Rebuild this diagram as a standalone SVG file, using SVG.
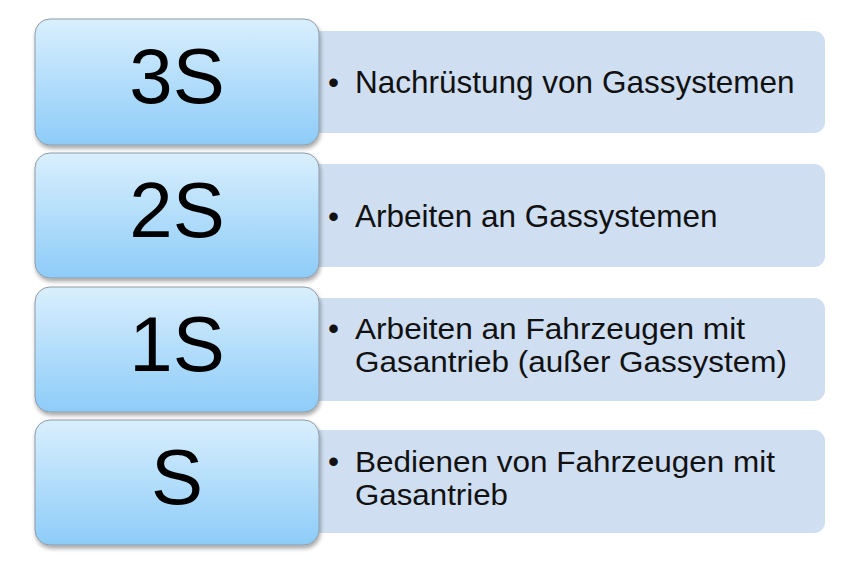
<svg xmlns="http://www.w3.org/2000/svg" width="854" height="579" viewBox="0 0 854 579">
<defs>
<linearGradient id="bg" x1="0" y1="0" x2="0" y2="1">
<stop offset="0" stop-color="#d9effd"/>
<stop offset="1" stop-color="#8dccf8"/>
</linearGradient>
<filter id="sh" x="-10%" y="-10%" width="120%" height="125%">
<feGaussianBlur in="SourceAlpha" stdDeviation="2"/>
<feOffset dx="1" dy="3" result="b"/>
<feComponentTransfer><feFuncA type="linear" slope="0.35"/></feComponentTransfer>
<feMerge><feMergeNode/><feMergeNode in="SourceGraphic"/></feMerge>
</filter>
</defs>
<style>
.panel{fill:#cfdef1;}
.box{fill:url(#bg);stroke:#8f9ba7;stroke-width:1;filter:url(#sh);}
.big{font-family:"Liberation Sans",Arial,sans-serif;font-size:78px;fill:#000;text-anchor:middle;}
.txt{font-family:"Liberation Sans",Arial,sans-serif;font-size:31.5px;fill:#111;}
.txt2{font-family:"Liberation Sans",Arial,sans-serif;font-size:29px;fill:#111;}
</style>
<rect width="854" height="579" fill="#fff"/>
<g id="row-3S">
<rect class="panel" x="290" y="31" width="535" height="102" rx="11"/>
<rect class="box" x="35" y="19" width="284" height="126" rx="15"/>
<text class="big" x="177" y="103">3S</text>
<text class="txt" x="328" y="93">•</text>
<text class="txt" x="355" y="93">Nachrüstung von Gassystemen</text>
</g>
<g id="row-2S">
<rect class="panel" x="290" y="164" width="535" height="103" rx="11"/>
<rect class="box" x="35" y="153" width="284" height="125" rx="15"/>
<text class="big" x="177" y="237">2S</text>
<text class="txt" x="328" y="227">•</text>
<text class="txt" x="355" y="227">Arbeiten an Gassystemen</text>
</g>
<g id="row-1S">
<rect class="panel" x="290" y="298" width="535" height="103" rx="11"/>
<rect class="box" x="35" y="287" width="284" height="125" rx="15"/>
<text class="big" x="177" y="371">1S</text>
<text class="txt" x="328" y="339">•</text>
<text class="txt2" x="355" y="339" textLength="390" lengthAdjust="spacingAndGlyphs">Arbeiten an Fahrzeugen mit</text>
<text class="txt2" x="355" y="372" textLength="432" lengthAdjust="spacingAndGlyphs">Gasantrieb (außer Gassystem)</text>
</g>
<g id="row-S">
<rect class="panel" x="290" y="430" width="535" height="103" rx="11"/>
<rect class="box" x="35" y="420" width="284" height="125" rx="15"/>
<text class="big" x="177" y="504">S</text>
<text class="txt" x="328" y="472">•</text>
<text class="txt2" x="355" y="472" textLength="420" lengthAdjust="spacingAndGlyphs">Bedienen von Fahrzeugen mit</text>
<text class="txt2" x="355" y="505" textLength="153" lengthAdjust="spacingAndGlyphs">Gasantrieb</text>
</g>
<g id="connectors"></g>
</svg>
